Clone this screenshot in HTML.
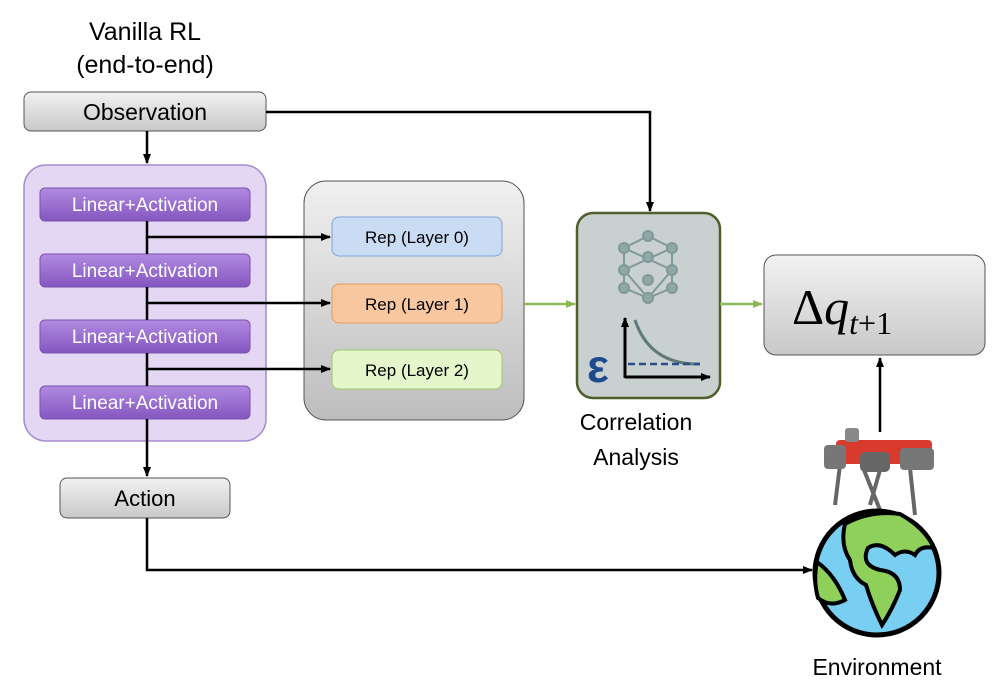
<!DOCTYPE html>
<html><head><style>
body{margin:0;background:#fff;font-family:"Liberation Sans",sans-serif}
</style></head><body>
<svg width="997" height="687" viewBox="0 0 997 687" xmlns="http://www.w3.org/2000/svg">
<defs>
<linearGradient id="g" x1="0" y1="0" x2="0" y2="1"><stop offset="0" stop-color="#f2f2f2"/><stop offset="1" stop-color="#c8c8c8"/></linearGradient>
<linearGradient id="p" x1="0" y1="0" x2="0" y2="1"><stop offset="0" stop-color="#b18ae0"/><stop offset="1" stop-color="#8456c0"/></linearGradient>
<linearGradient id="gp" x1="0" y1="0" x2="0" y2="1"><stop offset="0" stop-color="#f0f0f0"/><stop offset="1" stop-color="#bdbdbd"/></linearGradient>
<marker id="a" markerWidth="10" markerHeight="8" refX="9" refY="4" orient="auto" markerUnits="userSpaceOnUse"><path d="M0,0L10,4L0,8z" fill="#000"/></marker>
<marker id="ag" markerWidth="10" markerHeight="8" refX="9" refY="4" orient="auto" markerUnits="userSpaceOnUse"><path d="M0,0L10,4L0,8z" fill="#8db85a"/></marker>
</defs>
<text x="145" y="40" font-size="25" text-anchor="middle">Vanilla RL</text>
<text x="145" y="73" font-size="25" text-anchor="middle">(end-to-end)</text>
<rect x="24" y="92" width="242" height="39" rx="7" fill="url(#g)" stroke="#555"/>
<text x="145" y="120" font-size="23" text-anchor="middle">Observation</text>
<rect x="24" y="165" width="242" height="276" rx="22" fill="#e3d7f3" stroke="#a68ccf" stroke-width="1.5"/>
<g font-size="19" fill="#fff" text-anchor="middle">
<rect x="40" y="188" width="210" height="33" rx="5" fill="url(#p)" stroke="#7a52b0"/><text x="145" y="211">Linear+Activation</text>
<rect x="40" y="254" width="210" height="33" rx="5" fill="url(#p)" stroke="#7a52b0"/><text x="145" y="277">Linear+Activation</text>
<rect x="40" y="320" width="210" height="33" rx="5" fill="url(#p)" stroke="#7a52b0"/><text x="145" y="343">Linear+Activation</text>
<rect x="40" y="386" width="210" height="33" rx="5" fill="url(#p)" stroke="#7a52b0"/><text x="145" y="409">Linear+Activation</text>
</g>
<rect x="304" y="181" width="220" height="239" rx="22" fill="url(#gp)" stroke="#555"/>
<g font-size="17" text-anchor="middle">
<rect x="332" y="217" width="170" height="39" rx="7" fill="#cadcf4" stroke="#7fa4d6"/><text x="417" y="243">Rep (Layer 0)</text>
<rect x="332" y="284" width="170" height="39" rx="7" fill="#f9c7a0" stroke="#e59a5c"/><text x="417" y="310">Rep (Layer 1)</text>
<rect x="332" y="350" width="170" height="39" rx="7" fill="#e6f6cb" stroke="#9cc86b"/><text x="417" y="376">Rep (Layer 2)</text>
</g>
<rect x="577" y="213" width="143" height="185" rx="16" fill="#c9d1d0" stroke="#4f5f2b" stroke-width="2.5"/>
<g stroke="#7f9a98" stroke-width="2" fill="#8fa8a6">
<line x1="648" y1="236" x2="624" y2="248"/><line x1="648" y1="236" x2="672" y2="248"/>
<line x1="624" y1="248" x2="672" y2="270"/><line x1="672" y1="248" x2="624" y2="270"/>
<line x1="624" y1="248" x2="624" y2="288"/><line x1="672" y1="248" x2="672" y2="288"/>
<line x1="624" y1="270" x2="648" y2="298"/><line x1="672" y1="270" x2="648" y2="298"/>
<line x1="624" y1="288" x2="648" y2="298"/><line x1="672" y1="288" x2="648" y2="298"/>
<circle cx="648" cy="236" r="5"/><circle cx="624" cy="248" r="5"/><circle cx="672" cy="248" r="5"/>
<circle cx="648" cy="257" r="5"/><circle cx="624" cy="270" r="5"/><circle cx="672" cy="270" r="5"/>
<circle cx="648" cy="280" r="5"/><circle cx="624" cy="288" r="5"/><circle cx="672" cy="288" r="5"/><circle cx="648" cy="298" r="5"/>
</g>
<path d="M625,378 V318" stroke="#000" stroke-width="3" marker-end="url(#a)"/>
<path d="M625,377 H710" stroke="#000" stroke-width="3" marker-end="url(#a)"/>
<path d="M635,320 Q650,365 700,364" stroke="#5f7a78" stroke-width="3" fill="none"/>
<line x1="628" y1="364" x2="700" y2="364" stroke="#2a4f8a" stroke-width="2.5" stroke-dasharray="7,4"/>
<text x="587" y="382" font-size="46" font-weight="bold" fill="#1e4b8c">ε</text>
<text x="636" y="430" font-size="23" text-anchor="middle">Correlation</text>
<text x="636" y="465" font-size="23" text-anchor="middle">Analysis</text>
<rect x="764" y="255" width="221" height="100" rx="12" fill="url(#g)" stroke="#555"/>
<text x="792" y="324" font-size="50" font-family="Liberation Serif, serif">Δ<tspan font-style="italic">q</tspan><tspan font-size="32" font-style="italic" dy="10">t</tspan><tspan font-size="32" dy="0">+1</tspan></text>
<rect x="60" y="478" width="170" height="40" rx="7" fill="url(#g)" stroke="#555"/>
<text x="145" y="506" font-size="22" text-anchor="middle">Action</text>
<g stroke="#000" stroke-width="2.5" fill="none">
<path d="M147,131 V163" marker-end="url(#a)"/>
<path d="M266,112 H650 V211" marker-end="url(#a)"/>
<path d="M147,221 V237 H330" marker-end="url(#a)"/>
<path d="M147,287 V303 H330" marker-end="url(#a)"/>
<path d="M147,353 V369 H330" marker-end="url(#a)"/>
<path d="M147,237 V254"/><path d="M147,303 V320"/><path d="M147,369 V386"/>
<path d="M147,419 V476" marker-end="url(#a)"/>
<path d="M147,518 V570 H812" marker-end="url(#a)"/>
<path d="M880,432 V358" marker-end="url(#a)"/>
</g>
<path d="M524,304 H575" stroke="#8db85a" stroke-width="2.5" marker-end="url(#ag)"/>
<path d="M720,304 H762" stroke="#8db85a" stroke-width="2.5" marker-end="url(#ag)"/>
<g>
<path d="M840,465 L835,505 M862,465 L880,510 M910,468 L915,515 M880,470 L870,505" stroke="#666" stroke-width="4"/>
<rect x="836" y="440" width="96" height="24" rx="4" fill="#d93a2e"/>
<rect x="845" y="428" width="14" height="14" rx="3" fill="#888"/>
<rect x="824" y="445" width="22" height="24" rx="4" fill="#777"/>
<rect x="860" y="452" width="30" height="20" rx="5" fill="#666"/>
<rect x="900" y="448" width="34" height="22" rx="4" fill="#777"/>
<circle cx="877" cy="573" r="62" fill="#79cff2" stroke="#000" stroke-width="5"/>
<path d="M845,524 Q870,510 900,514 Q925,528 934,548 Q920,545 915,555 Q905,548 895,555 Q880,540 868,548 Q860,565 880,570 Q900,572 900,590 Q892,610 882,625 Q872,605 866,585 Q852,578 850,560 Q840,545 845,524 Z" fill="#8ed05a" stroke="#000" stroke-width="4"/>
<path d="M817,562 Q835,575 845,600 Q830,608 818,598 Q813,580 817,562 Z" fill="#8ed05a" stroke="#000" stroke-width="4"/>
</g>
<text x="877" y="675" font-size="23" text-anchor="middle">Environment</text>
</svg>
</body></html>
